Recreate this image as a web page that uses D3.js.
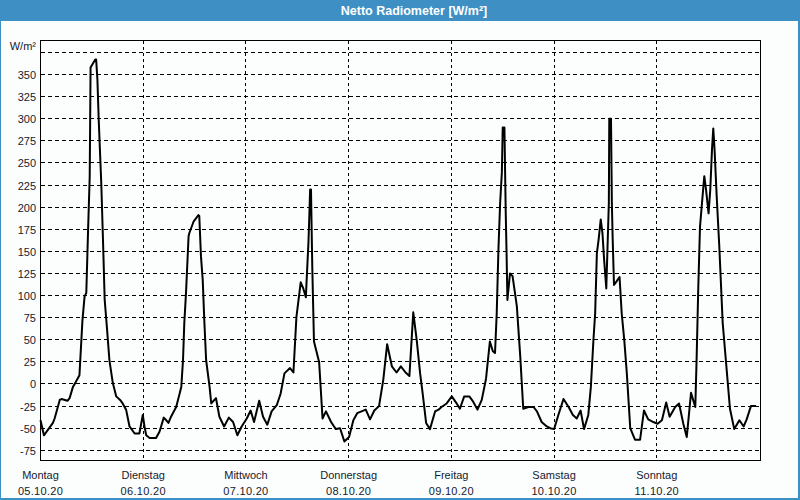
<!DOCTYPE html>
<html>
<head>
<meta charset="utf-8">
<script src="https://cdn.jsdelivr.net/npm/d3@7"></script>
<style>
  html, body { margin: 0; padding: 0; background: #ffffff; }
  svg { display: block; }
  text { font-family: "Liberation Sans", Arial, sans-serif; }
</style>
</head>
<body>
<svg id="chart" width="800" height="500"></svg>
<script>
// ---- data ----
const title = "Netto Radiometer [W/m²]";
const unitLabel = "W/m²";
const dayNames = ["Montag", "Dienstag", "Mittwoch", "Donnerstag", "Freitag", "Samstag", "Sonntag"];
const dayDates = ["05.10.20", "06.10.20", "07.10.20", "08.10.20", "09.10.20", "10.10.20", "11.10.20"];
const yTickValues = [-75, -50, -25, 0, 25, 50, 75, 100, 125, 150, 175, 200, 225, 250, 275, 300, 325, 350];
const yGridValues = [-75, -50, -25, 0, 25, 50, 75, 100, 125, 150, 175, 200, 225, 250, 275, 300, 325, 350, 375];
// hours since Monday 05.10.20 00:00
const hours = [
  0, 0.8, 2.9, 3.3, 4.5, 4.9, 6.3, 6.8, 7.6, 8.1, 9.1, 9.8, 10.3, 10.7, 11.1, 11.5, 11.6, 11.7, 12.8, 13.0,
  13.3, 13.6, 14.2, 14.6, 15.0, 15.5, 16.1, 16.9, 17.7, 18.6, 19.2, 20.0, 20.8, 22.0, 23.1, 23.9, 24.3, 24.7, 25.5, 27.0,
  27.8, 28.8, 29.4, 29.9, 30.5, 31.7, 32.5, 32.9, 33.3, 33.6, 34.0, 34.6, 34.8, 35.8, 36.9, 37.1, 37.5, 37.9, 38.3, 38.7,
  39.5, 39.9, 41.0, 41.8, 42.9, 44.0, 45.0, 46.0, 47.0, 48.2, 49.1, 49.9, 51.1, 52.0, 53.0, 54.0, 55.2, 56.1, 57.0, 58.3,
  59.1, 59.8, 60.8, 61.4, 62.0, 62.3, 62.6, 62.8, 63.0, 63.2, 63.5, 63.9, 65.1, 65.9, 66.7, 67.9, 69.0, 70.0, 71.0, 72.1,
  73.1, 74.0, 76.0, 77.0, 78.0, 79.1, 80.1, 81.0, 82.1, 83.2, 84.2, 85.3, 86.2, 87.1, 87.9, 88.7, 89.3, 90.1, 91.0, 92.2,
  93.0, 93.7, 94.9, 96.1, 97.1, 98.0, 99.0, 100.2, 101.1, 102.1, 103.1, 104.1, 105.0, 105.7, 106.2, 106.6, 107.0, 107.4, 107.8, 108.0,
  108.4, 108.7, 108.9, 109.1, 109.7, 110.3, 111.3, 112.1, 112.8, 114.0, 115.2, 116.0, 117.1, 118.3, 119.1, 120.0, 121.0, 122.2, 123.4, 124.4,
  125.3, 126.2, 127.0, 128.0, 128.6, 129.2, 129.6, 130.0, 130.4, 130.9, 131.3, 131.7, 132.2, 132.5, 132.8, 132.9, 133.3, 133.5, 133.7, 134.0,
  134.6, 135.3, 135.8, 136.4, 137.0, 137.8, 138.9, 140.1, 141.0, 142.0, 143.2, 144.2, 145.2, 146.2, 147.0, 148.3, 149.2, 150.2, 151.0, 152.0,
  153.0, 153.3, 153.7, 154.1, 154.5, 155.1, 155.5, 156.1, 156.5, 156.9, 157.2, 157.5, 158.0, 158.6, 159.4, 160.4, 161.1, 162.1, 163.3, 164.3,
  165.0, 166.0, 167.2
];
const values = [
  -41, -58, -44, -39, -18, -17, -19, -16, -3, 1, 10, 72, 99, 103, 171, 235, 295, 358, 367, 367,
  344, 299, 227, 163, 95, 65, 27, 1, -14, -18, -22, -29, -48, -56, -56, -35, -48, -58, -61, -61,
  -54, -38, -41, -44, -37, -26, -11, -3, 27, 69, 103, 167, 171, 184, 191, 190, 144, 118, 69, 27,
  -3, -22, -16, -37, -48, -38, -43, -58, -48, -39, -30, -43, -19, -37, -46, -31, -24, -11, 12, 18,
  13, 76, 115, 108, 98, 129, 159, 188, 220, 220, 133, 48, 25, -39, -31, -43, -51, -50, -65, -60,
  -41, -33, -29, -40, -30, -25, 5, 45, 20, 13, 20, 13, 9, 81, 50, 12, -11, -44, -51, -31,
  -29, -26, -22, -14, -21, -28, -14, -14, -20, -29, -18, 6, 48, 37, 35, 80, 152, 205, 239, 290,
  290, 195, 148, 95, 125, 122, 88, 31, -28, -26, -26, -31, -43, -48, -50, -51, -35, -17, -26, -35,
  -39, -30, -51, -35, -3, 50, 80, 148, 163, 186, 171, 140, 108, 156, 205, 300, 300, 205, 163, 112,
  116, 121, 80, 50, 12, -50, -63, -63, -30, -40, -43, -45, -41, -21, -37, -26, -22, -45, -60, -10,
  -26, 27, 110, 178, 201, 235, 220, 193, 220, 265, 289, 265, 212, 156, 69, 12, -28, -51, -41, -48,
  -40, -25, -25
];

// ---- layout ----
const W = 800, H = 500;
const plot = { left: 40.5, right: 760.5, top: 40.5, bottom: 460.5 };
const svg = d3.select("#chart");

// window frame
svg.append("rect").attr("x", 0).attr("y", 0).attr("width", W).attr("height", H).attr("fill", "#3d8fc4");
svg.append("rect").attr("x", 1).attr("y", 21).attr("width", W - 3).attr("height", H - 23).attr("fill", "#fcfefd");

svg.append("text")
  .attr("x", 414).attr("y", 11)
  .attr("text-anchor", "middle").attr("dominant-baseline", "central")
  .attr("fill", "#ffffff").attr("font-weight", "bold").attr("font-size", "12.5px")
  .text(title);

const x = d3.scaleLinear().domain([0, 168]).range([40.5, 759.5]);
const y = d3.scaleLinear().domain([-86.5, 388.4]).range([460.5, 40.5]);
const snap = v => Math.round(v - 0.5) + 0.5;

// horizontal grid
svg.append("g").selectAll("line").data(yGridValues).join("line")
  .attr("x1", plot.left).attr("x2", plot.right)
  .attr("y1", d => snap(y(d))).attr("y2", d => snap(y(d)))
  .attr("stroke", "#000").attr("stroke-width", 1)
  .attr("stroke-dasharray", "4,3").attr("shape-rendering", "crispEdges");

// vertical day grid
const dayIdx = d3.range(1, 7);
svg.append("g").selectAll("line").data(dayIdx).join("line")
  .attr("x1", d => snap(x(d * 24))).attr("x2", d => snap(x(d * 24)))
  .attr("y1", plot.top).attr("y2", plot.bottom)
  .attr("stroke", "#000").attr("stroke-width", 1)
  .attr("stroke-dasharray", "3,3").attr("shape-rendering", "crispEdges");

// plot border
svg.append("rect")
  .attr("x", plot.left).attr("y", plot.top)
  .attr("width", plot.right - plot.left).attr("height", plot.bottom - plot.top)
  .attr("fill", "none").attr("stroke", "#000").attr("stroke-width", 1)
  .attr("shape-rendering", "crispEdges");

// y labels
svg.append("g").selectAll("text").data(yTickValues).join("text")
  .attr("x", 36).attr("y", d => snap(y(d)))
  .attr("text-anchor", "end").attr("dominant-baseline", "central")
  .attr("font-size", "11px").attr("fill", "#151a30")
  .text(d => d);

svg.append("text")
  .attr("x", 36).attr("y", 46)
  .attr("text-anchor", "end").attr("dominant-baseline", "central")
  .attr("font-size", "11px").attr("fill", "#151a30")
  .text(unitLabel);

// x labels
const xl = svg.append("g").selectAll("g").data(dayNames).join("g");
xl.append("text")
  .attr("x", (d, i) => x(i * 24)).attr("y", 475)
  .attr("text-anchor", "middle").attr("dominant-baseline", "central")
  .attr("font-size", "11px").attr("fill", "#151a30")
  .text(d => d);
xl.append("text")
  .attr("x", (d, i) => x(i * 24)).attr("y", 491)
  .attr("text-anchor", "middle").attr("dominant-baseline", "central")
  .attr("font-size", "11px").attr("fill", "#151a30").attr("letter-spacing", "0.3px")
  .text((d, i) => dayDates[i]);

// series line
const pts = hours.map((h, i) => [h, values[i]]);
const line = d3.line().x(d => x(d[0])).y(d => y(d[1]));
svg.append("path")
  .datum(pts)
  .attr("d", line)
  .attr("fill", "none").attr("stroke", "#000").attr("stroke-width", 2)
  .attr("stroke-linejoin", "round");
</script>
</body>
</html>
